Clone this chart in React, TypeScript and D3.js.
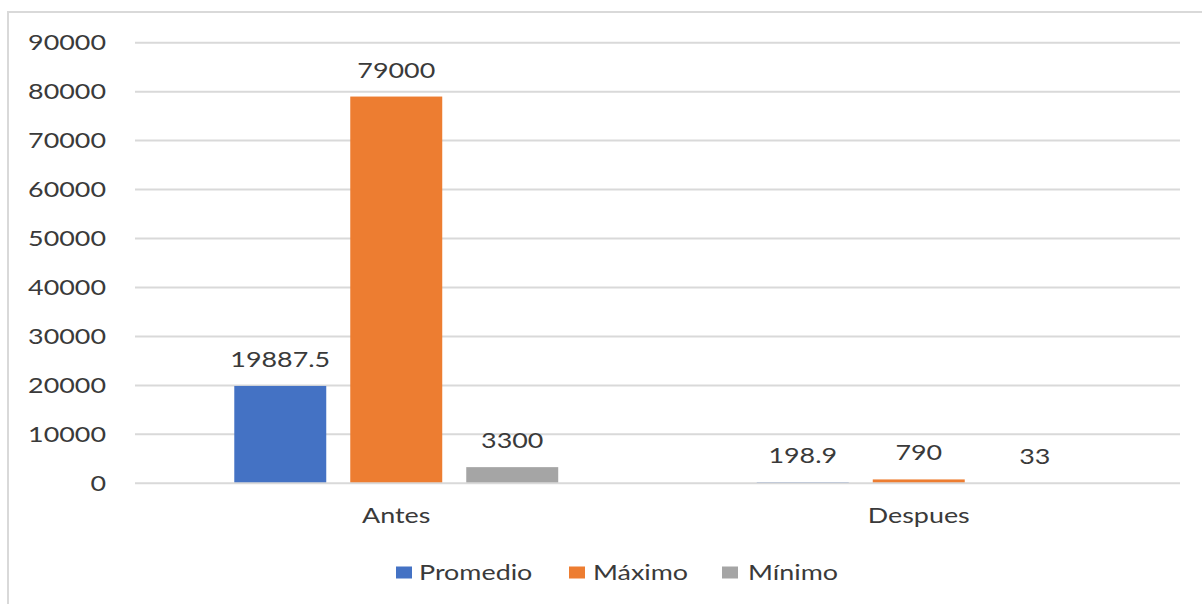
import React from "react";
import * as d3 from "d3";

// Chart data
const categories = ["Antes", "Despues"];
const seriesNames = ["Promedio", "Máximo", "Mínimo"];
const promedio = [19887.5, 198.9];
const maximo = [79000, 790];
const minimo = [3300, 33];
const seriesValues = [promedio, maximo, minimo];
const yTicks = [0, 10000, 20000, 30000, 40000, 50000, 60000, 70000, 80000, 90000];

const colors = ["#4472C4", "#ED7D31", "#A5A5A5"];
const textColor = "#3a3a3a";
const gridColor = "#d9d9d9";
const fontFamily = "Lato, 'Open Sans', sans-serif";
const fontSize = 21;
const stretch = 1.28;

const W = 1202;
const H = 604;
const plotLeft = 135;
const plotRight = 1180;
const plotTop = 42.7;
const plotBottom = 483.3;

type LabelProps = {
  x: number;
  y: number;
  anchor?: "start" | "middle" | "end";
  children: React.ReactNode;
};

// Text widened horizontally to follow the chart's wide lettering
function Label({ x, y, anchor = "middle", children }: LabelProps) {
  return (
    <text
      transform={`translate(${x},${y}) scale(${stretch},1)`}
      textAnchor={anchor}
      fontFamily={fontFamily}
      fontSize={fontSize}
      fill={textColor}
    >
      {children}
    </text>
  );
}

export default function App() {
  const y = d3.scaleLinear().domain([0, 90000]).range([plotBottom, plotTop]);
  const x0 = d3.scaleBand<string>().domain(categories).range([plotLeft, plotRight]);
  const x1 = d3
    .scaleBand<string>()
    .domain(seriesNames)
    .range([0, x0.bandwidth()])
    .paddingInner(0.207)
    .paddingOuter(0.856);

  const legendItems = [
    { name: seriesNames[0], sx: 396, tx: 419 },
    { name: seriesNames[1], sx: 569, tx: 593 },
    { name: seriesNames[2], sx: 722, tx: 748 },
  ];

  return (
    <svg
      width={W}
      height={H}
      style={{ position: "absolute", left: 0, top: 0, background: "#fff" }}
    >
      {/* chart area frame */}
      <rect x={8} y={12} width={1220} height={620} fill="none" stroke={gridColor} strokeWidth={2} />

      {/* gridlines and y-axis labels */}
      {yTicks.map((t) => (
        <g key={t}>
          {t !== 0 && (
            <line x1={plotLeft} x2={plotRight} y1={y(t)} y2={y(t)} stroke={gridColor} strokeWidth={2} />
          )}
          <Label x={106} y={y(t) + 7.5} anchor="end">
            {String(t)}
          </Label>
        </g>
      ))}

      {/* bars with value labels */}
      {categories.map((c, ci) => (
        <g key={c} transform={`translate(${x0(c)},0)`}>
          {seriesNames.map((s, si) => {
            const v = seriesValues[si][ci];
            const bx = x1(s) as number;
            const top = y(v);
            return (
              <g key={s}>
                <rect
                  x={bx}
                  y={top}
                  width={x1.bandwidth()}
                  height={Math.max(0, plotBottom - top)}
                  fill={colors[si]}
                />
                <Label x={bx + x1.bandwidth() / 2} y={top - 19}>
                  {String(v)}
                </Label>
              </g>
            );
          })}
          <Label x={x0.bandwidth() / 2} y={523.3}>
            {c}
          </Label>
        </g>
      ))}

      {/* category axis line, drawn over the bar bases */}
      <line x1={plotLeft} x2={plotRight} y1={y(0)} y2={y(0)} stroke={gridColor} strokeWidth={2} />

      {/* legend */}
      {legendItems.map((it, i) => (
        <g key={it.name}>
          <rect x={it.sx} y={566.5} width={16} height={12} fill={colors[i]} />
          <Label x={it.tx} y={580} anchor="start">
            {it.name}
          </Label>
        </g>
      ))}
    </svg>
  );
}
